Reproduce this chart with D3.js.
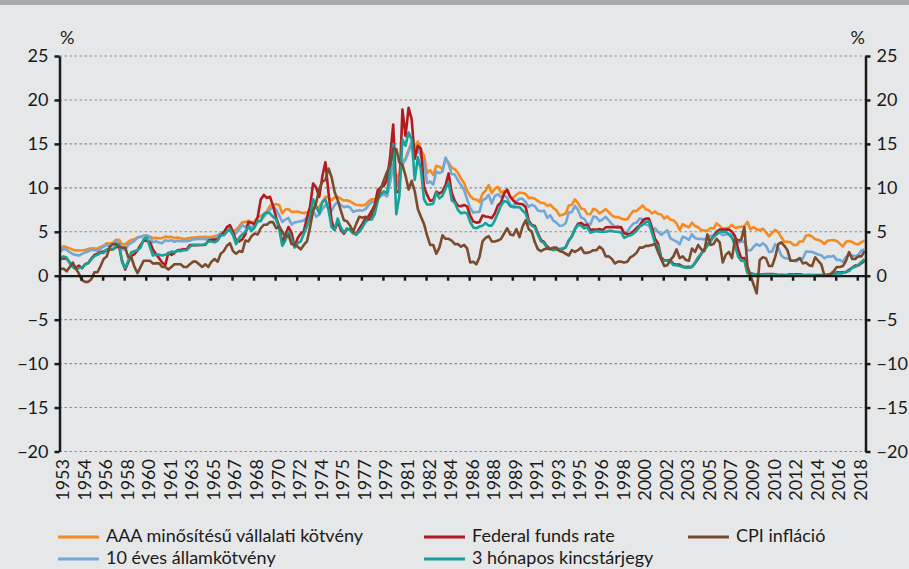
<!DOCTYPE html>
<html><head><meta charset="utf-8">
<script src="https://cdn.jsdelivr.net/npm/d3@7/dist/d3.min.js"></script>
<style>
html,body{margin:0;padding:0;background:#e6e7e8;}
svg{display:block;}
text{font-family:Lato,"Open Sans",sans-serif;fill:#1a1a1a;}
</style></head><body>
<svg id="chart" width="909" height="569"></svg>
<script>
// Quarterly observations, 1953 Q1 – 2018 Q2 (percent)
const xTickLabels = ["1953","1954","1956","1958","1960","1961","1963","1965","1967","1968","1970","1972","1974","1975","1977","1979","1981","1982","1984","1986","1988","1989","1991","1993","1995","1996","1998","2000","2002","2003","2005","2007","2009","2010","2012","2014","2016","2018"];
const yTicks = [-20,-15,-10,-5,0,5,10,15,20,25];

const aaa = [
3.07,3.34,3.24,3.11, 2.95,2.88,2.87,2.89, 2.93,3.04,3.11,3.10, 3.08,3.28,3.43,3.69, 3.67,3.74,4.10,4.08,
3.59,3.57,3.85,4.09, 4.14,4.37,4.43,4.56, 4.56,4.46,4.28,4.31, 4.27,4.27,4.45,4.39, 4.42,4.28,4.35,4.25,
4.19,4.22,4.29,4.33, 4.36,4.41,4.41,4.43, 4.41,4.44,4.49,4.60, 4.78,4.98,5.31,5.35, 5.03,5.24,5.62,6.07,
6.10,6.27,6.02,6.19, 6.66,6.79,6.97,7.35, 7.93,8.11,8.13,8.05, 7.08,7.53,7.59,7.26, 7.27,7.30,7.19,7.12,
7.22,7.29,7.68,7.67, 7.85,8.37,9.00,8.89, 8.62,8.90,8.95,8.78, 8.55,8.58,8.45,8.25, 8.04,8.05,7.98,8.08,
8.47,8.69,8.69,9.03, 9.26,9.50,9.23,10.76, 12.70,10.99,11.64,12.97, 13.35,14.32,15.20,14.22, 15.27,14.26,13.71,11.68,
12.01,11.46,12.51,12.41, 12.08,13.28,12.87,12.29, 12.13,11.72,11.05,10.55, 9.67,9.09,8.72,8.68, 8.38,9.33,9.67,10.30,
9.40,9.90,10.11,9.45, 9.64,9.57,8.96,8.89, 9.22,9.47,9.41,9.30, 8.83,8.86,8.75,8.48, 8.29,8.28,7.95,8.10,
7.71,7.43,6.85,6.93, 7.08,7.99,8.07,8.68, 8.26,7.65,7.57,7.02, 6.99,7.62,7.46,7.10, 7.31,7.58,7.22,6.87,
6.67,6.69,6.52,6.41, 6.40,6.93,7.40,7.36, 7.68,7.99,7.55,7.45, 7.10,7.29,7.02,6.97, 6.51,6.75,6.37,6.31,
5.95,5.22,5.88,5.65, 5.50,6.04,5.65,5.52, 5.20,5.15,5.09,5.42, 5.35,5.95,5.68,5.33, 5.39,5.47,5.79,5.44,
5.53,5.57,5.64,6.12, 5.27,5.54,5.26,5.19, 5.35,4.96,4.49,4.87, 5.22,4.96,4.37,3.87, 3.85,3.80,3.48,3.50,
3.90,3.89,4.54,4.63, 4.45,4.16,4.08,3.92, 3.61,3.98,4.04,4.06, 3.96,3.65,3.32,3.86, 3.95,3.85,3.63,3.57,
3.82,4.00];

const fedFunds = [
1.90,2.00,1.95,1.50, 1.10,0.90,1.15,0.85, 1.30,1.45,1.95,2.35, 2.50,2.70,2.75,2.90, 3.00,3.00,3.24,3.30,
1.67,0.70,1.53,2.27, 2.45,2.90,3.50,4.00, 3.97,3.85,2.98,2.44, 2.00,1.50,1.20,2.60, 2.37,2.60,2.90,2.94,
3.00,3.00,3.49,3.48, 3.48,3.50,3.50,3.52, 3.98,4.10,4.12,4.10, 4.60,4.90,5.53,5.76, 5.00,3.94,3.90,4.13,
4.71,6.11,6.03,5.82, 6.64,8.67,9.19,8.85, 8.98,7.95,6.61,5.60, 3.72,4.63,5.56,4.91, 3.29,4.27,4.80,5.06,
6.58,7.84,10.50,10.03, 8.97,11.31,12.92,9.45, 6.24,5.22,6.14,5.22, 4.77,5.29,5.29,4.95, 4.68,5.35,5.90,6.51,
6.78,7.36,8.04,9.76, 10.06,10.24,10.94,13.50, 17.20,9.50,9.60,18.90, 15.90,19.10,17.82,13.31, 14.78,14.45,10.12,9.20,
8.51,8.63,9.56,9.34, 9.59,10.32,11.64,9.43, 8.50,7.97,7.90,8.05, 7.86,6.85,6.17,6.04, 6.10,6.85,6.73,6.69,
6.58,7.09,8.01,8.35, 9.36,9.81,8.99,8.55, 8.24,8.18,8.13,7.81, 6.25,5.78,5.66,4.81, 4.06,3.82,3.30,3.09,
3.03,3.00,3.04,3.02, 3.25,4.01,4.47,5.29, 5.92,6.01,5.74,5.80, 5.22,5.24,5.22,5.31, 5.19,5.50,5.54,5.52,
5.51,5.49,5.55,4.83, 4.76,4.74,5.07,5.42, 5.73,6.27,6.50,6.51, 5.49,4.21,3.65,2.09, 1.74,1.75,1.74,1.34,
1.26,1.26,1.03,1.00, 1.01,1.00,1.43,1.93, 2.50,3.00,3.50,4.00, 4.49,4.94,5.25,5.25, 5.26,5.25,5.02,4.49,
2.98,1.98,2.00,0.39, 0.22,0.18,0.16,0.12, 0.13,0.20,0.19,0.19, 0.16,0.09,0.10,0.08, 0.10,0.16,0.13,0.16,
0.15,0.11,0.08,0.08, 0.07,0.09,0.09,0.09, 0.11,0.12,0.14,0.12, 0.38,0.37,0.40,0.41, 0.66,0.91,1.16,1.16,
1.42,1.70];

const cpi = [
0.80,0.80,0.50,1.00, 1.50,0.80,0.20,-0.50, -0.70,-0.70,-0.40,0.40, 0.40,1.10,1.90,2.20, 3.30,3.60,3.60,3.30,
3.20,3.20,2.10,2.10, 1.00,0.30,1.00,1.70, 1.70,1.70,1.40,1.40, 1.40,1.00,1.00,0.70, 1.00,1.30,1.30,1.30,
1.00,1.00,1.30,1.60, 1.60,1.30,1.00,1.30, 1.00,1.60,1.90,1.60, 2.50,2.80,3.40,3.70, 2.80,2.50,2.80,2.70,
4.00,3.90,4.50,4.80, 4.70,5.40,5.80,5.80, 6.10,6.10,5.40,5.60, 5.00,4.40,4.60,3.60, 3.50,3.30,3.00,3.50,
3.90,5.50,7.40,8.30, 9.90,10.70,10.90,12.20, 11.20,9.50,8.60,7.40, 6.30,6.20,5.70,5.00, 5.90,6.70,6.60,6.70,
6.40,6.90,7.90,8.90, 9.90,10.90,11.80,12.60, 14.50,14.40,12.90,12.60, 11.40,9.80,10.80,9.60, 7.60,6.70,5.90,4.60,
3.50,3.50,2.50,3.20, 4.60,4.20,4.20,4.00, 3.60,3.60,3.30,3.50, 3.10,1.50,1.60,1.30, 2.10,3.90,4.30,4.50,
3.90,3.90,4.00,4.20, 4.80,5.40,4.70,4.60, 5.30,4.40,5.60,6.30, 5.30,5.00,3.80,3.00, 2.80,3.00,3.10,3.00,
3.20,3.20,2.80,2.70, 2.50,2.30,2.90,2.70, 2.90,3.20,2.60,2.60, 2.70,2.90,2.90,3.30, 3.00,2.20,2.20,1.90,
1.40,1.60,1.60,1.50, 1.60,2.10,2.30,2.60, 3.20,3.20,3.40,3.40, 3.50,3.60,2.70,1.90, 1.10,1.20,1.80,2.20,
3.00,2.00,2.20,1.80, 1.70,3.10,2.70,3.50, 3.00,2.80,4.70,3.50, 3.60,4.20,3.80,1.50, 2.40,2.70,2.00,4.30,
4.00,4.10,5.50,1.10, 0.00,-1.00,-2.00,1.80, 2.10,2.00,1.10,1.10, 2.10,3.60,3.80,3.40, 2.90,1.70,1.70,1.80,
2.00,1.40,1.50,1.20, 1.10,2.10,1.70,1.30, 0.00,0.00,0.20,0.50, 1.00,1.00,1.10,1.70, 2.70,1.90,1.90,2.20,
2.20,2.80];

const treasury10y = [
2.80,3.05,2.95,2.68, 2.47,2.37,2.30,2.48, 2.65,2.76,2.97,2.89, 2.84,3.07,3.33,3.49, 3.34,3.60,3.93,3.72,
3.05,2.92,3.54,3.74, 3.96,4.31,4.43,4.53, 4.60,4.35,3.80,3.93, 3.78,3.71,4.04,3.94, 4.04,3.87,3.98,3.92,
3.92,3.93,4.00,4.12, 4.15,4.20,4.19,4.15, 4.21,4.21,4.25,4.45, 4.83,4.78,5.22,5.16, 4.63,4.85,5.28,5.75,
5.56,5.87,5.42,5.70, 6.19,6.32,6.69,7.14, 7.50,7.91,7.53,6.84, 6.11,6.39,6.58,5.81, 6.08,6.13,6.21,6.28,
6.64,6.85,7.40,6.73, 6.96,7.58,8.04,7.68, 7.39,8.06,8.40,8.05, 7.79,7.90,7.77,7.29, 7.39,7.46,7.40,7.58,
8.03,8.35,8.41,8.81, 9.10,9.25,9.03,10.65, 12.60,10.18,11.10,12.68, 13.19,14.10,15.10,13.39, 14.43,13.62,13.06,10.55,
10.72,10.38,11.85,11.69, 11.84,13.45,12.72,11.57, 11.51,10.85,10.33,9.78, 8.70,7.71,7.17,7.25, 7.25,8.61,8.76,9.20,
8.21,9.09,9.26,8.96, 9.17,8.86,8.11,7.87, 8.47,8.76,8.75,8.39, 7.85,8.07,7.90,7.42, 7.34,7.39,6.59,6.87,
6.26,6.04,5.68,5.72, 5.97,7.18,7.24,7.96, 7.47,6.63,6.49,5.93, 5.81,6.74,6.64,6.20, 6.42,6.71,6.30,5.88,
5.57,5.65,5.34,4.83, 5.00,5.54,5.94,6.03, 6.52,6.44,5.83,5.72, 5.10,5.39,4.97,4.65, 4.91,5.16,4.26,4.05,
3.90,3.57,4.45,4.30, 4.08,4.72,4.28,4.19, 4.17,4.14,4.26,4.54, 4.57,5.11,4.88,4.60, 4.72,4.75,4.67,4.15,
3.74,3.88,3.89,2.90, 2.87,3.29,3.59,3.40, 3.69,3.42,2.70,2.76, 3.58,3.17,2.30,2.01, 1.97,1.80,1.68,1.65,
1.98,1.93,2.74,2.72, 2.71,2.56,2.42,2.33, 1.98,2.20,2.17,2.26, 1.78,1.81,1.56,2.14, 2.42,2.30,2.21,2.35,
2.86,2.98];

const tbill3m = [
2.02,2.20,2.04,1.44, 0.98,0.76,0.88,0.93, 1.26,1.43,1.86,2.23, 2.37,2.60,2.60,2.99, 3.10,3.00,3.40,3.57,
1.55,0.85,1.69,2.67, 2.80,2.90,3.20,4.15, 4.35,3.30,2.30,2.40, 2.40,2.30,2.40,2.50, 2.74,2.70,2.84,2.80,
2.90,2.90,3.30,3.50, 3.50,3.50,3.50,3.60, 3.90,3.90,3.80,4.00, 4.60,4.60,5.00,5.30, 4.60,3.60,4.30,4.70,
5.00,5.60,5.10,5.50, 6.20,6.20,7.00,7.20, 7.10,6.70,6.40,5.30, 3.40,4.00,5.00,4.20, 3.20,3.70,3.90,4.80,
5.60,6.60,8.70,7.90, 7.10,8.40,8.70,7.50, 5.50,5.20,6.50,5.50, 4.90,5.40,5.20,4.80, 4.70,5.00,5.50,6.10,
6.40,6.40,7.00,8.60, 9.30,9.60,9.40,12.10, 15.00,7.00,9.10,15.50, 14.80,16.30,15.50,10.90, 13.50,12.10,8.70,8.10,
8.10,8.20,9.50,8.80, 9.10,9.90,10.60,8.60, 8.30,7.50,7.10,7.20, 7.10,6.10,5.50,5.40, 5.60,5.70,6.00,5.70,
5.70,6.30,7.10,8.00, 8.50,8.40,7.90,7.80, 7.80,7.80,7.40,7.10, 6.00,5.70,5.50,4.60, 3.90,3.70,3.10,3.10,
2.90,3.00,3.00,3.10, 3.20,4.00,4.50,5.30, 5.80,5.70,5.40,5.50, 4.90,5.00,5.10,5.00, 5.00,5.00,5.10,5.10,
5.00,5.00,4.90,4.30, 4.50,4.60,4.80,5.10, 5.60,5.80,6.10,6.20, 4.90,3.70,3.40,1.90, 1.70,1.70,1.60,1.20,
1.20,1.10,1.00,0.90, 0.90,1.00,1.50,2.10, 2.50,2.90,3.40,3.90, 4.40,4.70,5.00,5.00, 5.00,4.70,4.30,3.40,
2.20,1.70,1.70,0.30, 0.30,0.18,0.17,0.05, 0.10,0.15,0.15,0.14, 0.13,0.05,0.02,0.01, 0.09,0.09,0.10,0.09,
0.10,0.04,0.04,0.07, 0.05,0.03,0.03,0.02, 0.02,0.02,0.07,0.12, 0.30,0.27,0.30,0.45, 0.53,0.90,1.01,1.25,
1.57,1.89];

const seriesNames = ["AAA minősítésű vállalati kötvény","Federal funds rate","CPI infláció","10 éves államkötvény","3 hónapos kincstárjegy"];
const seriesColors = ["#f58a1f","#b3191e","#7a4b2c","#72a7d6","#15a398"];
const seriesValues = [aaa, fedFunds, cpi, treasury10y, tbill3m];
const drawOrder = [0, 3, 1, 4, 2];

const monthsTotal = 786;        // Jan 1953 … Jun 2018
const monthsPerTick = 21;
const monthsPerObs = 3;

const svg = d3.select("#chart");
svg.append("rect").attr("x",0).attr("y",0).attr("width",909).attr("height",5).attr("fill","#a7a9ac");

const x = d3.scaleLinear().domain([0, monthsTotal - 1]).range([59.5, 865.5]);
const y = d3.scaleLinear().domain([-20, 25]).range([451.5, 56]);

const fmt = d => d < 0 ? "\u2212" + Math.abs(d) : String(d);

// grid
svg.append("g").selectAll("line").data(yTicks.filter(v => v !== 0)).join("line")
  .attr("x1", x.range()[0]).attr("x2", x.range()[1])
  .attr("y1", d => y(d)).attr("y2", d => y(d))
  .attr("stroke", "#8c8c8c").attr("stroke-width", 1.1).attr("stroke-dasharray", "2.5,2.5");

// lines
const line = d3.line().x((d, i) => x(i * monthsPerObs + 1)).y(d => y(d));
const gl = svg.append("g");
drawOrder.forEach(k => {
  gl.append("path").datum(seriesValues[k]).attr("d", line)
    .attr("fill", "none").attr("stroke", seriesColors[k]).attr("stroke-width", 2.6)
    .attr("stroke-linejoin", "round");
});

// axes
function styleAxis(g) {
  g.select(".domain").attr("stroke", "#1a1a1a").attr("stroke-width", 2.5);
  g.selectAll(".tick line").attr("stroke", "#1a1a1a").attr("stroke-width", 2.5);
  g.selectAll(".tick text").attr("font-size", 18).attr("font-family", "Lato").attr("fill", "#1a1a1a");
}
svg.append("g").attr("transform", `translate(${x.range()[0]},0)`)
  .call(d3.axisLeft(y).tickValues(yTicks).tickSize(5).tickSizeOuter(0).tickPadding(6).tickFormat(fmt))
  .call(styleAxis);
svg.append("g").attr("transform", `translate(${x.range()[1]},0)`)
  .call(d3.axisRight(y).tickValues(yTicks).tickSize(5).tickSizeOuter(0).tickPadding(6).tickFormat(fmt))
  .call(styleAxis);

const tickMonths = xTickLabels.map((_, k) => k * monthsPerTick);
svg.append("g").attr("transform", `translate(0,${y(0)})`)
  .call(d3.axisBottom(x).tickValues(tickMonths).tickSize(5).tickSizeOuter(0).tickFormat(""))
  .call(g => {
    g.select(".domain").attr("stroke", "#1a1a1a").attr("stroke-width", 2.2);
    g.selectAll(".tick line").attr("stroke", "#1a1a1a").attr("stroke-width", 2.5);
  });

// x labels
svg.append("g").selectAll("text").data(xTickLabels).join("text")
  .attr("transform", (d, k) => `translate(${x(tickMonths[k]) + 3},459) rotate(-90)`)
  .attr("text-anchor", "end").attr("dy", "0.36em").attr("font-size", 18).text(d => d);

// % units
svg.append("text").attr("x", 60).attr("y", 43.5).attr("font-size", 18).text("%");
svg.append("text").attr("x", 865).attr("y", 43.5).attr("font-size", 18).attr("text-anchor", "end").text("%");

// legend
const legendPos = [[58,537],[424,537],[688,537],[58,559],[424,559]];
const lg = svg.append("g");
seriesNames.forEach((name, k) => {
  const [lx, ly] = legendPos[k];
  lg.append("line").attr("x1", lx).attr("x2", lx + 41).attr("y1", ly).attr("y2", ly)
    .attr("stroke", seriesColors[k]).attr("stroke-width", 3);
  lg.append("text").attr("x", lx + 48).attr("y", ly + 5).attr("font-size", 18).text(name);
});
</script>
</body></html>
